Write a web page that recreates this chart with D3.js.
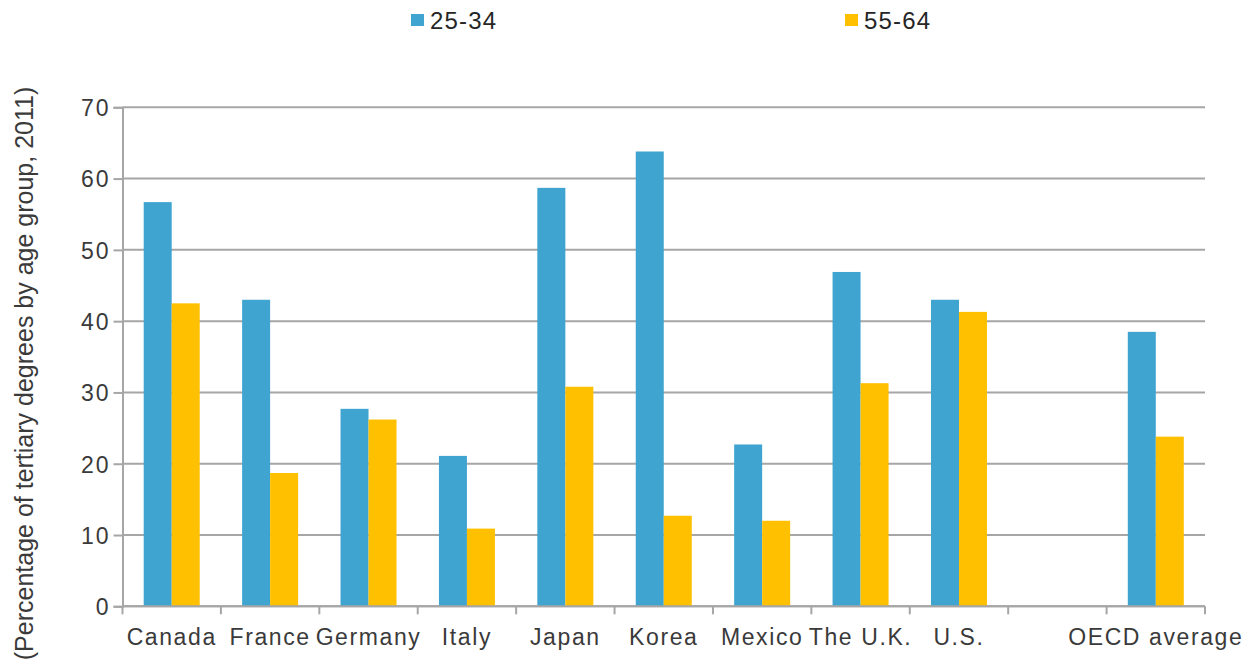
<!DOCTYPE html>
<html>
<head>
<meta charset="utf-8">
<script src="https://cdn.jsdelivr.net/npm/d3@7"></script>
<style>
  html, body { margin: 0; padding: 0; background: #fff; }
  svg { display: block; }
  text { font-family: "Liberation Sans", Arial, sans-serif; }
</style>
</head>
<body>
<svg id="chart" width="1251" height="670"></svg>
<script>
// ---- data ----
const categories = ["Canada", "France", "Germany", "Italy", "Japan", "Korea", "Mexico", "The U.K.", "U.S.", "", "OECD average"];
const seriesNames = ["25-34", "55-64"];
const values2534 = [56.7, 43.0, 27.7, 21.1, 58.7, 63.8, 22.7, 46.9, 43.0, null, 38.5];
const values5564 = [42.5, 18.7, 26.2, 10.9, 30.8, 12.7, 12.0, 31.3, 41.3, null, 23.8];
const yTicks = [0, 10, 20, 30, 40, 50, 60, 70];
const yTitle = "(Percentage of tertiary degrees by age group, 2011)";

const colors = ["#3FA4D0", "#FFC000"];

const svg = d3.select("#chart");
const plotLeft = 122.5, plotRight = 1205, plotTop = 107.3, plotBottom = 606.3;

const keys = categories.map((c, i) => c === "" ? "__blank" + i : c);
const x = d3.scaleBand().domain(keys).range([plotLeft, plotRight]).paddingInner(0).paddingOuter(0);
const y = d3.scaleLinear().domain([0, 70]).range([plotBottom, plotTop]);
const barW = 28;

// gridlines
svg.append("g").selectAll("line").data(yTicks).join("line")
  .attr("x1", plotLeft).attr("x2", plotRight)
  .attr("y1", d => y(d)).attr("y2", d => y(d))
  .attr("stroke", "#a6a6a6").attr("stroke-width", 2);

// bars
const series = [values2534, values5564];
series.forEach((vals, si) => {
  svg.append("g").selectAll("rect")
    .data(vals.map((v, i) => ({ v, k: keys[i] })).filter(d => d.v != null))
    .join("rect")
    .attr("x", d => x(d.k) + x.bandwidth() / 2 - barW + si * barW)
    .attr("width", barW)
    .attr("y", d => y(d.v))
    .attr("height", d => y(0) - y(d.v))
    .attr("fill", colors[si]);
});

// y axis
const yAxis = d3.axisLeft(y).tickValues(yTicks).tickSize(9).tickPadding(3);
const gy = svg.append("g").attr("transform", `translate(${plotLeft},0)`).call(yAxis);
gy.select(".domain").attr("stroke", "#a6a6a6").attr("stroke-width", 2);
gy.selectAll(".tick line").attr("stroke", "#a6a6a6").attr("stroke-width", 2);
gy.selectAll(".tick text").attr("fill", "#3a3a3a").style("font-size", "23px")
  .style("letter-spacing", "2px").attr("dy", "0.36em");

// x axis: labels at band centers, ticks at band boundaries
const xAxis = d3.axisBottom(x).tickSize(0).tickPadding(22)
  .tickFormat(k => k.startsWith("__blank") ? "" : k);
const gx = svg.append("g").attr("transform", `translate(0,${plotBottom})`).call(xAxis);
gx.select(".domain").remove();
gx.selectAll(".tick text").attr("fill", "#3a3a3a").style("font-size", "23px")
  .style("letter-spacing", "1.6px");
const bounds = keys.map(k => x(k)).concat([x.range()[1]]);
svg.append("line").attr("x1", plotLeft).attr("x2", plotRight).attr("y1", plotBottom).attr("y2", plotBottom)
  .attr("stroke", "#a6a6a6").attr("stroke-width", 2);
svg.append("g").selectAll("line").data(bounds).join("line")
  .attr("x1", d => d).attr("x2", d => d)
  .attr("y1", plotBottom).attr("y2", plotBottom + 8)
  .attr("stroke", "#a6a6a6").attr("stroke-width", 2);

// y title
svg.append("text")
  .attr("transform", `translate(33,${(82 + 665) / 2}) rotate(-90)`)
  .attr("text-anchor", "middle")
  .attr("fill", "#3a3a3a")
  .style("font-size", "25px")
  .text(yTitle);

// legend
const legendX = [411, 845];
seriesNames.forEach((name, i) => {
  const g = svg.append("g").attr("transform", `translate(${legendX[i]},0)`);
  g.append("rect").attr("x", 0).attr("y", 14).attr("width", 13).attr("height", 12).attr("fill", colors[i]);
  g.append("text").attr("x", 19).attr("y", 29).attr("fill", "#262626")
    .style("font-size", "24px").style("letter-spacing", "1.2px").text(name);
});
</script>
</body>
</html>
